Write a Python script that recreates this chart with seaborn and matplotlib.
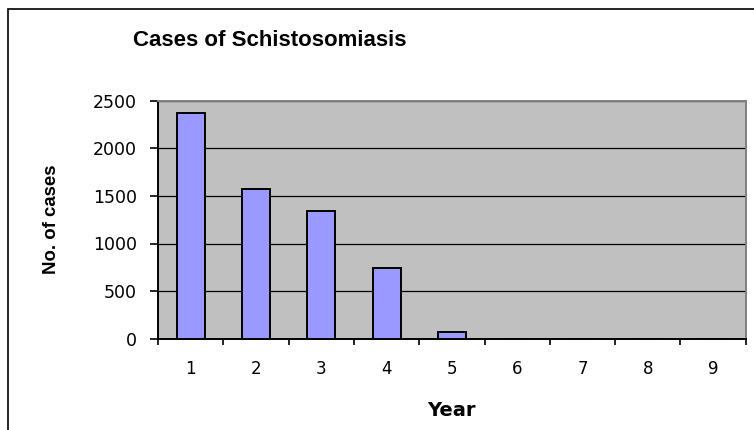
import matplotlib
matplotlib.use("Agg")
import matplotlib.pyplot as plt
import seaborn as sns
import pandas as pd
from matplotlib.patches import Rectangle

years = ["1", "2", "3", "4", "5", "6", "7", "8", "9"]
cases = [2370, 1575, 1340, 745, 75, 0, 0, 0, 0]
y_ticks = [0, 500, 1000, 1500, 2000, 2500]

sns.set_theme(style="white")
plt.rcParams['font.family'] = ['Liberation Sans', 'DejaVu Sans']
plt.rcParams['text.color'] = 'black'
plt.rcParams['axes.labelcolor'] = 'black'
plt.rcParams['xtick.color'] = 'black'
plt.rcParams['ytick.color'] = 'black'

df = pd.DataFrame({"Year": years, "Cases": cases})

fig = plt.figure(figsize=(7.54, 4.30), dpi=100)
fig.patch.set_facecolor("white")

# outer chart frame (extends beyond the image at right and bottom)
fig.patches.append(Rectangle((8 / 754, -0.1), 1.2, 1 - 9 / 430 + 0.1,
                             transform=fig.transFigure, fill=False,
                             edgecolor="black", linewidth=1.2, zorder=0))

ax = fig.add_axes([158 / 754, 1 - 338.7 / 430, (745.7 - 158) / 754, (338.7 - 100.7) / 430])
ax.set_facecolor("#C0C0C0")

sns.barplot(data=df, x="Year", y="Cases", color="#9999FF", saturation=1,
            width=0.43, edgecolor="black", linewidth=1.4, ax=ax, zorder=3)

ax.set_xlim(-0.5, len(years) - 0.5)
ax.set_ylim(0, 2500)
ax.set_yticks(y_ticks)
ax.set_yticklabels([str(v) for v in y_ticks], fontsize=12.5, family="DejaVu Sans")
ax.grid(axis="y", color="black", linewidth=0.9, zorder=1)
ax.set_axisbelow(True)

# x tick marks at category boundaries, labels at centers
ax.set_xticks(range(len(years)))
ax.set_xticklabels(years, fontsize=12, family="DejaVu Sans")
ax.set_xticks([i - 0.5 for i in range(len(years) + 1)], minor=True)
ax.tick_params(axis="x", which="major", length=0, pad=15.5)
ax.tick_params(axis="x", which="minor", length=4.5, width=1.2, color="black", direction="out")
ax.tick_params(axis="y", which="major", length=5.5, width=1.2, color="black", direction="out", pad=9.5)
ax.yaxis.set_ticks_position("left")
ax.xaxis.set_ticks_position("bottom")

for s in ["left", "bottom"]:
    ax.spines[s].set_color("black")
    ax.spines[s].set_linewidth(1.4)
for s in ["top", "right"]:
    ax.spines[s].set_color("#808080")
    ax.spines[s].set_linewidth(1.4)

ax.set_xlabel("Year", fontsize=14, fontweight="bold", family="DejaVu Sans", va="center")
ax.xaxis.set_label_coords(0.5, (338.7 - 410.5) / 238)
ax.set_ylabel("No. of cases", fontsize=13.4, fontweight="bold", va="center")
ax.yaxis.set_label_coords((52 - 158) / 587.7, 0.5)

fig.text(270 / 754, 1 - 41 / 430, "Cases of Schistosomiasis", ha="center", va="center",
         fontsize=16, fontweight="bold")

fig.savefig("out.png", dpi=100)
